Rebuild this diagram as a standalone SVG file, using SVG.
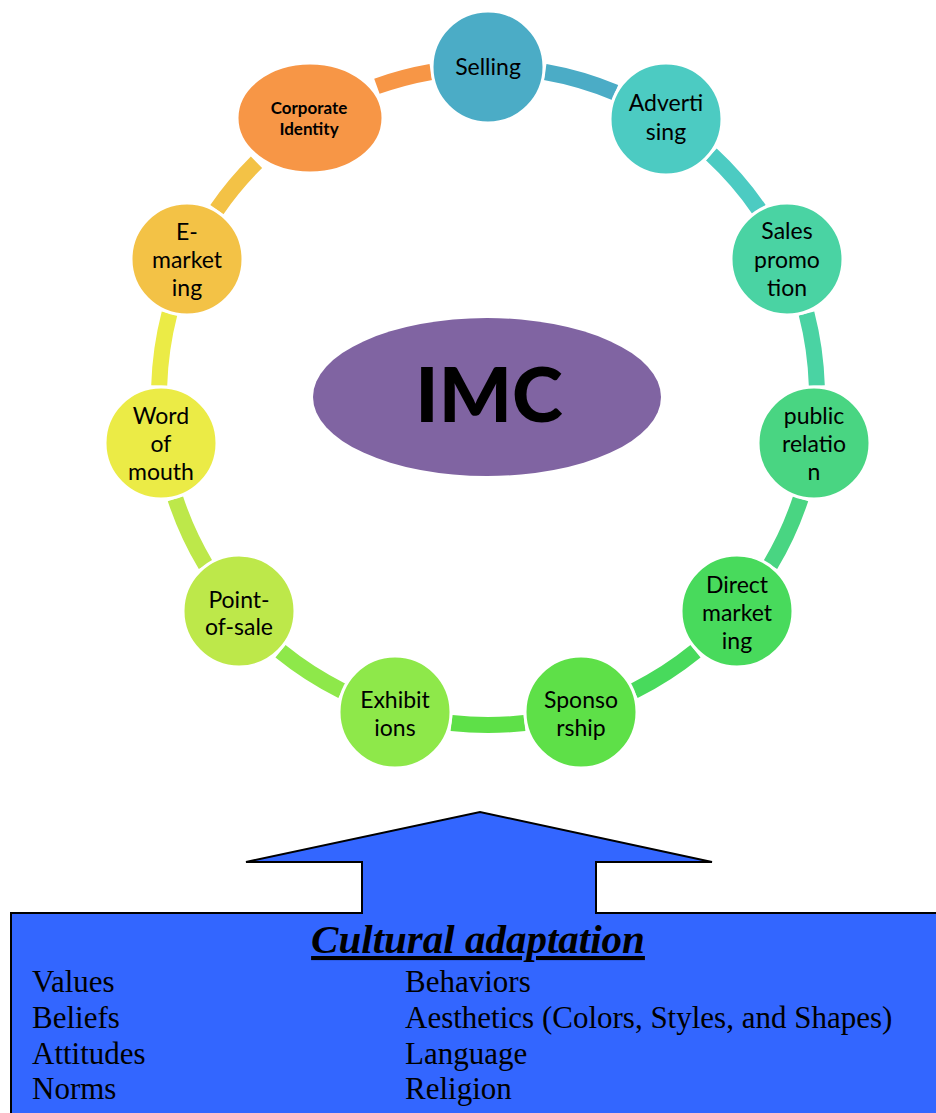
<svg xmlns="http://www.w3.org/2000/svg" width="936" height="1113" viewBox="0 0 936 1113">
<style>
.seg{fill:none;stroke-width:16;stroke-linecap:butt}
.node{stroke:#ffffff;stroke-width:3}
.lbl{font-family:Lato,"Open Sans",sans-serif;font-size:23px;fill:#000;text-anchor:middle}
.ci{font-family:Lato,"Open Sans",sans-serif;font-size:17px;font-weight:bold;fill:#000;text-anchor:middle}
.imc{font-family:Lato,"Open Sans",sans-serif;font-size:77px;font-weight:900;fill:#000;text-anchor:middle}
.list{font-family:"Liberation Serif","Times New Roman",serif;font-size:31px;fill:#000}
.title{font-family:"Liberation Serif","Times New Roman",serif;font-size:41px;font-weight:bold;font-style:italic;fill:#000;text-anchor:middle;text-decoration:underline}
</style>
<rect width="936" height="1113" fill="#ffffff"/>
<g id="connectors">
<path class="seg" stroke="#4bacc6" d="M545.1 72.0 A329 329 0 0 1 615.1 92.5"/>
<path class="seg" stroke="#4ccbc2" d="M711.3 154.4 A329 329 0 0 1 759.1 209.6"/>
<path class="seg" stroke="#4ad3a3" d="M806.5 313.4 A329 329 0 0 1 816.8 385.6"/>
<path class="seg" stroke="#49d582" d="M800.6 498.7 A329 329 0 0 1 770.3 565.0"/>
<path class="seg" stroke="#48da5c" d="M695.5 651.3 A329 329 0 0 1 634.1 690.8"/>
<path class="seg" stroke="#5ee048" d="M524.5 723.0 A329 329 0 0 1 451.5 723.0"/>
<path class="seg" stroke="#8ee84a" d="M341.9 690.8 A329 329 0 0 1 280.5 651.3"/>
<path class="seg" stroke="#bde84a" d="M205.7 565.0 A329 329 0 0 1 175.4 498.7"/>
<path class="seg" stroke="#ebeb46" d="M159.2 385.6 A329 329 0 0 1 169.5 313.4"/>
<path class="seg" stroke="#f3c246" d="M216.9 209.6 A329 329 0 0 1 256.5 162.3"/>
<path class="seg" stroke="#f79646" d="M376.9 86.3 A329 329 0 0 1 430.9 72.0"/>
</g>
<g id="imc">
<ellipse cx="487" cy="397" rx="174" ry="79" fill="#8064a2"/>
<text class="imc" x="489" y="422">IMC</text>
</g>
<g id="selling">
<circle class="node" cx="488" cy="67" r="56" fill="#4bacc6"/>
<text class="lbl" x="488" y="75">Selling</text>
</g>
<g id="advertising">
<circle class="node" cx="666" cy="119" r="56" fill="#4ccbc2"/>
<text class="lbl" x="666" y="111">Adverti</text>
<text class="lbl" x="666" y="140">sing</text>
</g>
<g id="sales-promotion">
<circle class="node" cx="787" cy="259" r="56" fill="#4ad3a3"/>
<text class="lbl" x="787" y="239">Sales</text>
<text class="lbl" x="787" y="268">promo</text>
<text class="lbl" x="787" y="296">tion</text>
</g>
<g id="public-relation">
<circle class="node" cx="814" cy="443" r="56" fill="#49d582"/>
<text class="lbl" x="814" y="424">public</text>
<text class="lbl" x="814" y="452">relatio</text>
<text class="lbl" x="814" y="480">n</text>
</g>
<g id="direct-marketing">
<circle class="node" cx="737" cy="611" r="56" fill="#48da5c"/>
<text class="lbl" x="737" y="593">Direct</text>
<text class="lbl" x="737" y="621">market</text>
<text class="lbl" x="737" y="649">ing</text>
</g>
<g id="sponsorship">
<circle class="node" cx="581" cy="712" r="56" fill="#5ee048"/>
<text class="lbl" x="581" y="708">Sponso</text>
<text class="lbl" x="581" y="736">rship</text>
</g>
<g id="exhibitions">
<circle class="node" cx="395" cy="712" r="56" fill="#8ee84a"/>
<text class="lbl" x="395" y="708">Exhibit</text>
<text class="lbl" x="395" y="736">ions</text>
</g>
<g id="point-of-sale">
<circle class="node" cx="239" cy="611" r="56" fill="#bde84a"/>
<text class="lbl" x="239" y="608">Point-</text>
<text class="lbl" x="239" y="635">of-sale</text>
</g>
<g id="word-of-mouth">
<circle class="node" cx="161" cy="443" r="56" fill="#ebeb46"/>
<text class="lbl" x="161" y="424">Word</text>
<text class="lbl" x="161" y="452">of</text>
<text class="lbl" x="161" y="480">mouth</text>
</g>
<g id="e-marketing">
<circle class="node" cx="187" cy="259" r="56" fill="#f3c246"/>
<text class="lbl" x="187" y="240">E-</text>
<text class="lbl" x="187" y="268">market</text>
<text class="lbl" x="187" y="296">ing</text>
</g>
<g id="corporate-identity">
<ellipse class="node" cx="310" cy="118" rx="73" ry="55" fill="#f79646"/>
<text class="ci" x="309" y="114">Corporate</text>
<text class="ci" x="309" y="135">Identity</text>
</g>
<g id="cultural-adaptation">
<path d="M11 913 L362 913 L362 862 L246 862 L480 812 L712 862 L596 862 L596 913 L945 913 L945 1125 L11 1125 Z" fill="#3366ff" stroke="#000" stroke-width="2"/>
<text class="title" x="478" y="953">Cultural adaptation</text>
<text class="list" x="32" y="992">Values</text>
<text class="list" x="32" y="1028">Beliefs</text>
<text class="list" x="32" y="1064">Attitudes</text>
<text class="list" x="32" y="1099">Norms</text>
<text class="list" x="405" y="992">Behaviors</text>
<text class="list" x="405" y="1028">Aesthetics (Colors, Styles, and Shapes)</text>
<text class="list" x="405" y="1064">Language</text>
<text class="list" x="405" y="1099">Religion</text>
</g>
</svg>
